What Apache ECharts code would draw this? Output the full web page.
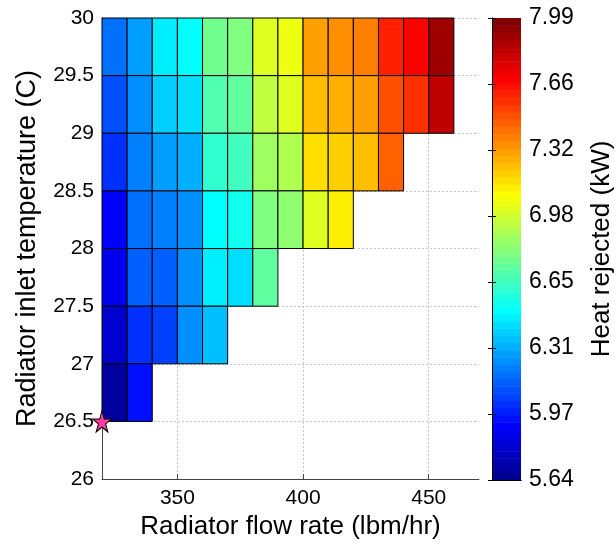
<!DOCTYPE html>
<html>
<head>
<meta charset="utf-8">
<script src="https://cdn.jsdelivr.net/npm/echarts@6/dist/echarts.min.js"></script>
<style>
html,body{margin:0;padding:0;background:#fff;}
#chart{width:616px;height:545px;}
</style>
</head>
<body>
<div id="chart"></div>
<script>
// ---- data ----
const flowStarts = [320, 330, 340, 350, 360, 370, 380, 390, 400, 410, 420, 430, 440, 450]; // cell left edges (lbm/hr)
const cellWidth = 10;   // lbm/hr
const cellHeight = 0.5; // C
const tempRows = [29.5, 29, 28.5, 28, 27.5, 27, 26.5]; // cell bottom edges (C)
const heat_29_5 = [6.19, 6.28, 6.46, 6.52, 6.76, 6.79, 7.03, 7.07, 7.30, 7.33, 7.38, 7.60, 7.66, 7.89];
const heat_29_0 = [6.11, 6.24, 6.40, 6.44, 6.68, 6.73, 6.93, 7.00, 7.23, 7.26, 7.30, 7.51, 7.58, 7.81];
const heat_28_5 = [6.03, 6.21, 6.28, 6.32, 6.62, 6.66, 6.87, 6.90, 7.16, 7.20, 7.24, 7.44];
const heat_28_0 = [5.93, 6.18, 6.22, 6.26, 6.52, 6.53, 6.79, 6.82, 7.03, 7.11];
const heat_27_5 = [5.88, 6.13, 6.15, 6.23, 6.45, 6.44, 6.72];
const heat_27_0 = [5.80, 6.04, 6.06, 6.24, 6.34];
const heat_26_5 = [5.70, 5.97];
const heatRows = [heat_29_5, heat_29_0, heat_28_5, heat_28_0, heat_27_5, heat_27_0, heat_26_5];
const xTicks = [350, 400, 450];
const cbMin = 5.64, cbMax = 7.99;
const cbTickLabels = ['5.64', '5.97', '6.31', '6.65', '6.98', '7.32', '7.66', '7.99'];
const optimum = [320, 26.5];

// ---- jet colormap (64 levels) ----
function clamp01(v){ return Math.max(0, Math.min(1, v)); }
const jet64 = [];
for (let i = 0; i < 64; i++) {
  const t4 = 4 * (i + 1) / 64;
  const r = clamp01(1.5 - Math.abs(t4 - 3));
  const g = clamp01(1.5 - Math.abs(t4 - 2));
  const b = clamp01(1.5 - Math.abs(t4 - 1));
  jet64.push('rgb(' + Math.round(r * 255) + ',' + Math.round(g * 255) + ',' + Math.round(b * 255) + ')');
}
function colorFor(v) {
  let idx = Math.floor((v - cbMin) / (cbMax - cbMin) * 64);
  idx = Math.max(0, Math.min(63, idx));
  return jet64[idx];
}

const cells = [];
heatRows.forEach((row, r) => {
  row.forEach((v, j) => { cells.push([flowStarts[j], tempRows[r], v]); });
});
const nSeg = cbTickLabels.length - 1;
const bands = jet64.map((c, i) => [0, i]);

const FONT = 'Liberation Sans';
const chart = echarts.init(document.getElementById('chart'), null, { renderer: 'canvas' });
const starPath = 'path://M50,0 L61.2,34.5 L97.6,34.5 L68.2,55.9 L79.4,90.5 L50,69.1 L20.6,90.5 L31.8,55.9 L2.4,34.5 L38.8,34.5 Z';

chart.setOption({
  animation: false,
  backgroundColor: '#fff',
  textStyle: { fontFamily: FONT },
  grid: [
    { left: 102, top: 18, width: 377, height: 462 },
    { left: 492, top: 18, width: 31, height: 462 }
  ],
  xAxis: [
    {
      type: 'value', gridIndex: 0, min: 320, max: 470,
      name: 'Radiator flow rate (lbm/hr)', nameLocation: 'middle', nameGap: 30,
      nameTextStyle: { fontSize: 26, color: '#000', fontFamily: FONT },
      axisLine: { show: true, onZero: false, lineStyle: { color: '#444', width: 1 } },
      axisTick: { show: true, inside: true, length: 5, customValues: xTicks, lineStyle: { color: '#444' } },
      axisLabel: { customValues: xTicks, fontSize: 21, color: '#000', margin: 9, fontFamily: FONT },
      splitLine: { show: true, customValues: xTicks, lineStyle: { color: '#c8c8c8', type: [2, 2], width: 1 } }
    },
    {
      type: 'value', gridIndex: 1, min: 0, max: 1, position: 'bottom', z: 10,
      axisLine: { show: true, lineStyle: { color: '#000', width: 1 } },
      axisTick: { show: false }, axisLabel: { show: false }, splitLine: { show: false }
    },
    {
      type: 'value', gridIndex: 1, min: 0, max: 1, position: 'top', z: 10,
      axisLine: { show: true, lineStyle: { color: '#000', width: 1 } },
      axisTick: { show: false }, axisLabel: { show: false }, splitLine: { show: false }
    }
  ],
  yAxis: [
    {
      type: 'value', gridIndex: 0, min: 26, max: 30, interval: 0.5,
      name: 'Radiator inlet temperature (C)', nameLocation: 'middle', nameGap: 61,
      nameTextStyle: { fontSize: 27, color: '#000', fontFamily: FONT },
      axisLine: { show: true, onZero: false, lineStyle: { color: '#444', width: 1 } },
      axisTick: { show: true, inside: true, length: 5, lineStyle: { color: '#444' } },
      axisLabel: { fontSize: 21, color: '#000', margin: 8, fontFamily: FONT },
      splitLine: { show: true, lineStyle: { color: '#c8c8c8', type: [2, 2], width: 1 } }
    },
    {
      type: 'value', gridIndex: 1, min: 0, max: nSeg, interval: 1, position: 'left', z: 10,
      axisLine: { show: true, lineStyle: { color: '#000', width: 1 } },
      axisTick: { show: true, inside: true, length: 4, lineStyle: { color: '#000' } },
      axisLabel: { show: false }, splitLine: { show: false }
    },
    {
      type: 'value', gridIndex: 1, min: 0, max: nSeg, interval: 1, position: 'right', z: 10,
      name: 'Heat rejected (kW)', nameLocation: 'middle', nameGap: 68,
      nameTextStyle: { fontSize: 26, color: '#000', fontFamily: FONT },
      axisLine: { show: true, lineStyle: { color: '#000', width: 1 } },
      axisTick: { show: true, inside: true, length: 4, lineStyle: { color: '#000' } },
      axisLabel: { fontSize: 23, color: '#000', margin: 8, fontFamily: FONT,
        formatter: function (v) { return cbTickLabels[Math.round(v)]; } },
      splitLine: { show: false }
    }
  ],
  series: [
    {
      type: 'custom', xAxisIndex: 0, yAxisIndex: 0, z: 3,
      data: cells,
      renderItem: function (params, api) {
        const x0 = api.value(0), y0 = api.value(1), v = api.value(2);
        const p0 = api.coord([x0, y0 + cellHeight]);
        const p1 = api.coord([x0 + cellWidth, y0]);
        return {
          type: 'rect',
          shape: { x: p0[0], y: p0[1], width: p1[0] - p0[0], height: p1[1] - p0[1] },
          style: { fill: colorFor(v), stroke: '#000', lineWidth: 1 }
        };
      }
    },
    {
      type: 'custom', xAxisIndex: 1, yAxisIndex: 1, z: 3,
      data: bands,
      renderItem: function (params, api) {
        const i = api.value(1);
        const p0 = api.coord([0, (i + 1) * nSeg / 64]);
        const p1 = api.coord([1, i * nSeg / 64]);
        return {
          type: 'rect',
          shape: { x: p0[0], y: p0[1], width: p1[0] - p0[0], height: p1[1] - p0[1] + 0.5 },
          style: { fill: jet64[i] }
        };
      }
    },
    {
      type: 'scatter', xAxisIndex: 0, yAxisIndex: 0, z: 10, clip: false,
      data: [optimum],
      symbol: starPath, symbolSize: [19, 21],
      itemStyle: { color: '#ff3d9e', borderColor: '#000', borderWidth: 1, opacity: 1 }
    }
  ]
});
</script>
</body>
</html>
